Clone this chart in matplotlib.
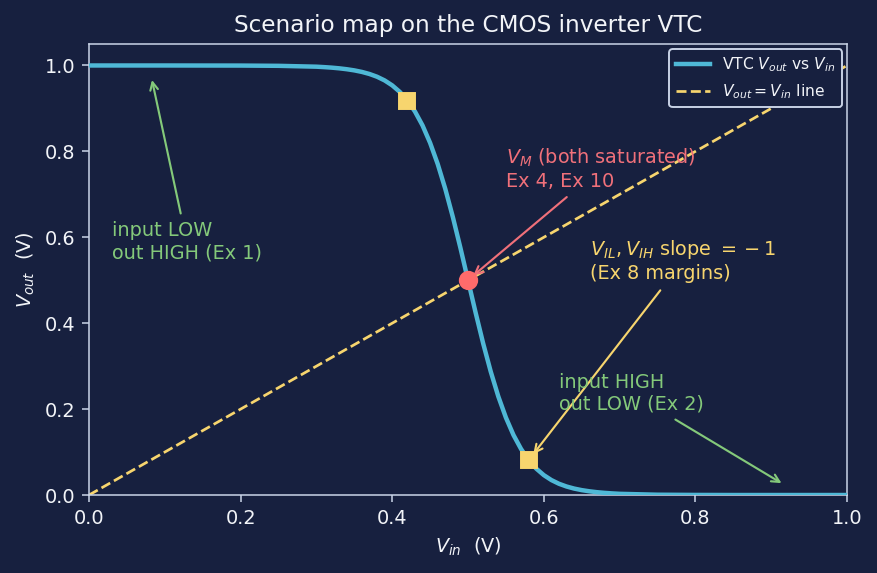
import matplotlib
matplotlib.use("Agg")
import matplotlib.pyplot as plt

# ---- data ----
vin = [0.00, 0.05, 0.10, 0.15, 0.20, 0.25, 0.30, 0.31, 0.32, 0.33, 0.34, 0.35,
       0.36, 0.37, 0.38, 0.39, 0.40, 0.41, 0.42, 0.43, 0.44, 0.45, 0.46, 0.47,
       0.48, 0.49, 0.50, 0.51, 0.52, 0.53, 0.54, 0.55, 0.56, 0.57, 0.58, 0.59,
       0.60, 0.61, 0.62, 0.63, 0.64, 0.65, 0.66, 0.67, 0.68, 0.69, 0.70, 0.75,
       0.80, 0.85, 0.90, 0.95, 1.00]
vout = [1.0000, 1.0000, 1.0000, 0.9999, 0.9998, 0.9992, 0.9972, 0.9962, 0.9950,
        0.9934, 0.9913, 0.9886, 0.9850, 0.9802, 0.9738, 0.9652, 0.9537, 0.9385,
        0.9186, 0.8929, 0.8604, 0.8198, 0.7707, 0.7128, 0.6471, 0.5752, 0.5000,
        0.4248, 0.3529, 0.2872, 0.2293, 0.1802, 0.1396, 0.1071, 0.0814, 0.0615,
        0.0463, 0.0348, 0.0262, 0.0198, 0.0150, 0.0114, 0.0087, 0.0066, 0.0050,
        0.0038, 0.0028, 0.0007, 0.0002, 0.0000, 0.0000, 0.0000, 0.0000]
diag = [0.0, 1.0]
vil_vih_x = [0.42, 0.58]
vil_vih_y = [0.918, 0.082]
vm_x, vm_y = 0.50, 0.50

BG = "#17203F"
FG = "#F2F4F8"
SPINE = "#C9D3E6"
CYAN = "#4FB8D6"
YEL = "#F7D56E"
RED = "#FF6B6B"
REDTXT = "#F0707A"
GREEN = "#84C97A"

fig = plt.figure(figsize=(877/139, 573/139), dpi=139, facecolor=BG)
ax = fig.add_axes([0.1015, 0.1361, 0.8643, 0.7871], facecolor=BG)

ax.plot(vin, vout, color=CYAN, lw=2.3, label=r"VTC $V_{out}$ vs $V_{in}$", zorder=3)
ax.plot(diag, diag, color=YEL, lw=1.4, ls="--", label=r"$V_{out} = V_{in}$ line", zorder=2)
ax.plot(vil_vih_x, vil_vih_y, ls="none", marker="s", ms=8, color=YEL, zorder=4)
ax.plot([vm_x], [vm_y], ls="none", marker="o", ms=9, color=RED, zorder=5)

ax.set_xlim(0, 1)
ax.set_ylim(0, 1.05)
ax.set_xticks([0.0, 0.2, 0.4, 0.6, 0.8, 1.0])
ax.set_yticks([0.0, 0.2, 0.4, 0.6, 0.8, 1.0])
for s in ax.spines.values():
    s.set_color(SPINE)
ax.tick_params(colors=SPINE, labelcolor=FG, labelsize=10)
ax.set_xlabel(r"$V_{in}$  (V)", color=FG, fontsize=10)
ax.set_ylabel(r"$V_{out}$  (V)", color=FG, fontsize=10)
ax.set_title("Scenario map on the CMOS inverter VTC", color=FG, fontsize=12)

leg = ax.legend(loc="upper right", fontsize=8.0, facecolor=BG, edgecolor=SPINE,
                framealpha=1.0, handlelength=2.2, borderaxespad=0.35)
for t in leg.get_texts():
    t.set_color(FG)

ap = dict(arrowstyle="->", lw=1.1)
ax.annotate("input LOW\nout HIGH (Ex 1)", xy=(0.082, 0.975), xytext=(0.03, 0.59),
            color=GREEN, fontsize=10, ha="left", va="center",
            arrowprops=dict(ap, color=GREEN))
ax.annotate("$V_M$ (both saturated)\nEx 4, Ex 10", xy=(vm_x + 0.003, vm_y + 0.005),
            xytext=(0.55, 0.76), color=REDTXT, fontsize=10, ha="left", va="center",
            arrowprops=dict(ap, color=REDTXT))
ax.annotate("$V_{IL}, V_{IH}$ slope $={}-1$\n(Ex 8 margins)", xy=(0.583, 0.088),
            xytext=(0.661, 0.545), color=YEL, fontsize=10, ha="left", va="center",
            arrowprops=dict(ap, color=YEL))
ax.annotate("input HIGH\nout LOW (Ex 2)", xy=(0.918, 0.023), xytext=(0.62, 0.237),
            color=GREEN, fontsize=10, ha="left", va="center",
            arrowprops=dict(ap, color=GREEN))

fig.savefig("out.png", dpi=139, facecolor=BG)
